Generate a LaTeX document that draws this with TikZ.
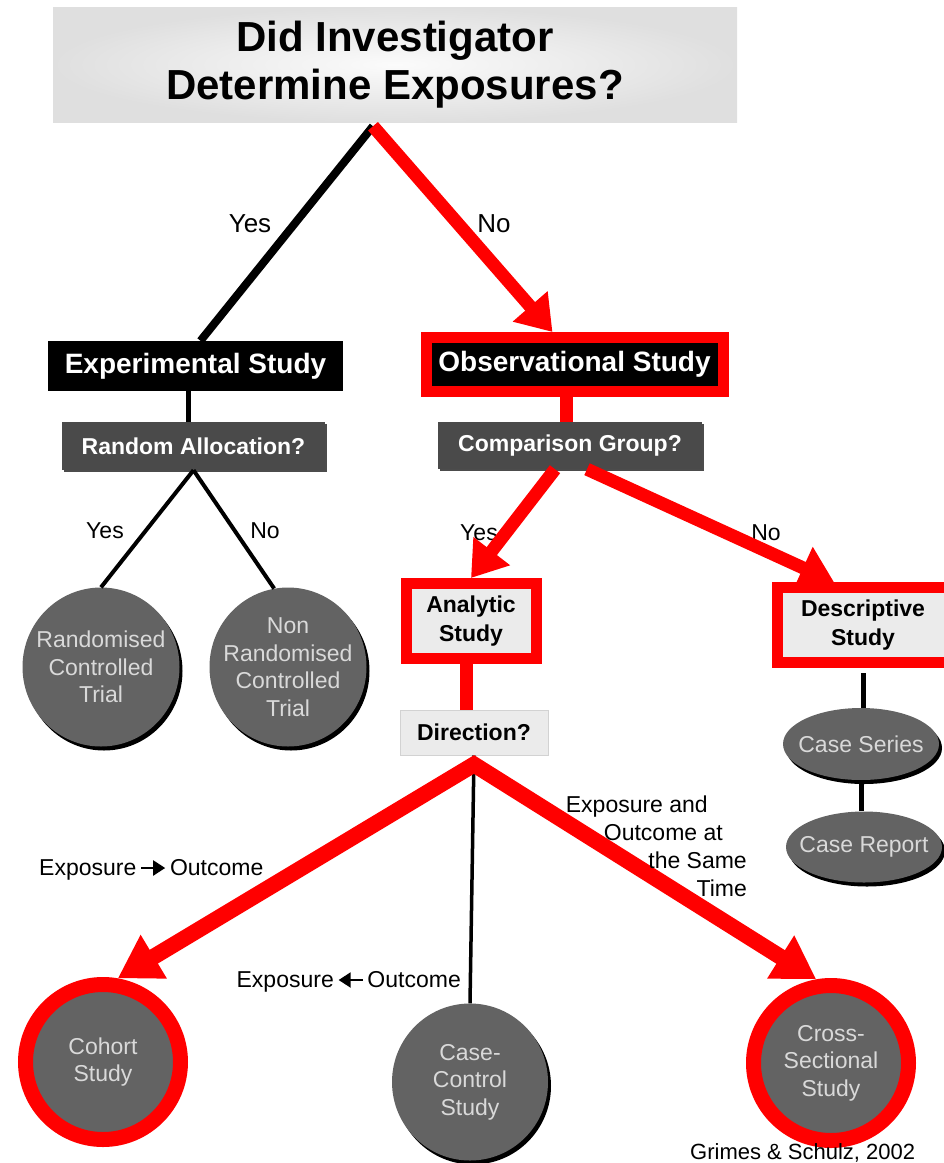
\documentclass[tikz,border=0pt]{standalone}
\usepackage{fontspec}
\setmainfont{Liberation Sans}
\usetikzlibrary{arrows.meta,shapes.geometric,shadows}

\definecolor{ovalgray}{HTML}{636363}
\definecolor{ovaltext}{HTML}{D9D9D9}
\definecolor{boxgray}{HTML}{4A4A4A}
\definecolor{paleboxgray}{HTML}{EBEBEB}
\definecolor{pathred}{HTML}{FF0000}

% small arrows inside the direction labels
\newcommand{\towards}{\,\tikz[baseline=-7pt]\draw[line width=2pt,-{Triangle[length=12pt,width=15pt]}] (0pt,0pt) -- (24pt,0pt);\,}
\newcommand{\backwards}{\,\tikz[baseline=-7pt]\draw[line width=2pt,{Triangle[length=12pt,width=15pt]}-] (0pt,0pt) -- (24pt,0pt);\,}

\tikzset{
	question/.style={rectangle, fill=boxgray, text=white, font=\fontsize{23}{27}\selectfont\bfseries,
		minimum width=263pt, minimum height=48pt,
		drop shadow={shadow xshift=2pt, shadow yshift=-2pt, fill=black, opacity=.7}},
	studybox/.style={rectangle, fill=black, text=white, font=\fontsize{28}{32}\selectfont\bfseries, minimum height=50pt},
	palebox/.style={rectangle, fill=paleboxgray, align=center, font=\fontsize{23}{29}\selectfont\bfseries},
	redframe/.style={draw=pathred, line width=11pt},
	oval/.style={ellipse, fill=ovalgray, text=ovaltext, align=center, font=\fontsize{23}{27.5}\selectfont,
		inner xsep=-12pt, inner ysep=0pt, minimum width=157pt, minimum height=159pt},
	shadowed/.style={drop shadow={shadow xshift=3pt, shadow yshift=-4pt, fill=black, opacity=1}},
	edgelabel/.style={font=\fontsize{23}{28}\selectfont, inner sep=0pt, anchor=base},
	redline/.style={draw=pathred, line width=13pt},
	redpath/.style={redline, -{Triangle[length=34pt,width=44pt]}}
}

\begin{document}
\begin{tikzpicture}[x=1pt,y=-1pt]
	\useasboundingbox (0,0) rectangle (944,1163);

	% TOP QUESTION
	\node[shade, shading=radial, inner color=gray!3, outer color=gray!25, align=center,
		minimum width=684pt, minimum height=115pt, font=\fontsize{42}{48}\selectfont\bfseries]
		(investigator) at (395,64.5) {Did Investigator\\Determine Exposures?};
	\coordinate (apex) at ([xshift=-22pt,yshift=-4pt]investigator.south);

	% EXPERIMENTAL SIDE
	\node[studybox, minimum width=295pt] (experimental) at (195.5,366) {Experimental Study};
	\node[question] (randomisation) at (193.5,446) {Random Allocation?};
	\node[oval, shadowed] (rct) at (101,667) {Randomised\\Controlled\\Trial};
	\node[oval, shadowed] (nrct) at (288,667) {Non\\Randomised\\Controlled\\Trial};

	\draw[line width=8pt] (apex) -- ([xshift=5pt]experimental.north);
	\draw[line width=5pt] ([xshift=-7pt]experimental.south) -- ([xshift=-7pt]experimental.south |- randomisation.north);
	\draw[line width=4pt] (randomisation.south) -- (rct.north);
	\draw[line width=4pt] (randomisation.south) -- (nrct.100);
	\node[edgelabel, font=\fontsize{26}{30}\selectfont] (yestop) at (250,232) {Yes};
	\node[edgelabel] (yesrandom) at (105,538) {Yes};
	\node[edgelabel] (norandom) at (265,538) {No};

	% OBSERVATIONAL SIDE
	\node[studybox, redframe, minimum width=297pt, minimum height=54pt] (observational) at (574.5,364.5) {Observational Study};
	\node[question, minimum width=264pt, minimum height=47pt] (comparison) at (570,445.5) {Comparison Group?};
	\node[palebox, redframe, minimum width=130pt, minimum height=75pt] (analytic) at (471,621) {Analytic\\Study};
	\node[palebox, redframe, minimum width=172pt, minimum height=75pt] (descriptive) at (863,625) {Descriptive\\Study};
	\node[palebox, draw=gray!35, line width=1pt, minimum width=148pt, minimum height=45pt] (direction) at (474,732.5) {Direction?};
	\node[oval, shadowed, minimum width=156pt, minimum height=72pt] (caseseries) at (861,744) {Case Series};
	\node[oval, shadowed, minimum width=156pt, minimum height=71pt] (casereport) at (864,847) {Case Report};

	\node[edgelabel, font=\fontsize{26}{30}\selectfont] (notop) at (494,232) {No};
	\node[edgelabel] (yescomparison) at (479,540) {Yes};
	\node[edgelabel] (nocomparison) at (766,540) {No};

	\draw[redpath] (apex) -- ([xshift=-22pt]observational.north);
	\draw[redline] ([xshift=-8pt]observational.south) -- ([xshift=-8pt]observational.south |- comparison.north);
	\draw[redpath] ([xshift=-15pt]comparison.south) -- (analytic.north);
	\draw[redpath] ([xshift=17pt]comparison.south) -- ([xshift=-29pt]descriptive.north);
	\draw[redline] ([xshift=-5pt]analytic.south) -- ([xshift=-5pt]analytic.south |- direction.north);
	\draw[line width=5pt, shorten <=5pt] (descriptive.south) -- (descriptive.south |- caseseries.north);
	\draw[line width=5pt] (caseseries.south) -- (caseseries.south |- casereport.north);

	% DIRECTION
	\node[oval, draw=pathred, line width=15pt, minimum width=155pt, minimum height=155pt] (cohort) at (103,1062) {Cohort\\Study};
	\node[oval, shadowed, minimum width=156pt, minimum height=157pt] (casecontrol) at (470,1082) {Case-\\Control\\Study};
	\node[oval, draw=pathred, line width=15pt, minimum width=155pt, minimum height=155pt] (crosssectional) at (831,1063) {Cross-\\Sectional\\Study};
	\coordinate (peak) at ([yshift=-9pt]direction.south);

	\draw[line width=3.5pt] (direction.south) -- (casecontrol.north);
	\draw[redline, line width=16pt, {Triangle[length=42pt,width=48pt]}-{Triangle[length=42pt,width=48pt]}]
		(cohort.80) -- (peak) -- (crosssectional.100);

	\node[edgelabel, anchor=base west] (forward) at (39,875) {Exposure\towards Outcome};
	\node[edgelabel, anchor=base east] (backward) at (461,987) {Exposure\backwards Outcome};
	\node[edgelabel, anchor=north east, align=right] (sametime) at (747,796)
		{Exposure and\hspace*{39pt}\mbox{}\\Outcome at\hspace*{24pt}\mbox{}\\the Same\\Time};

	\node[anchor=base west, inner sep=0pt, font=\fontsize{22}{26}\selectfont] (citation) at (690,1159) {Grimes \& Schulz, 2002};
\end{tikzpicture}
\end{document}
